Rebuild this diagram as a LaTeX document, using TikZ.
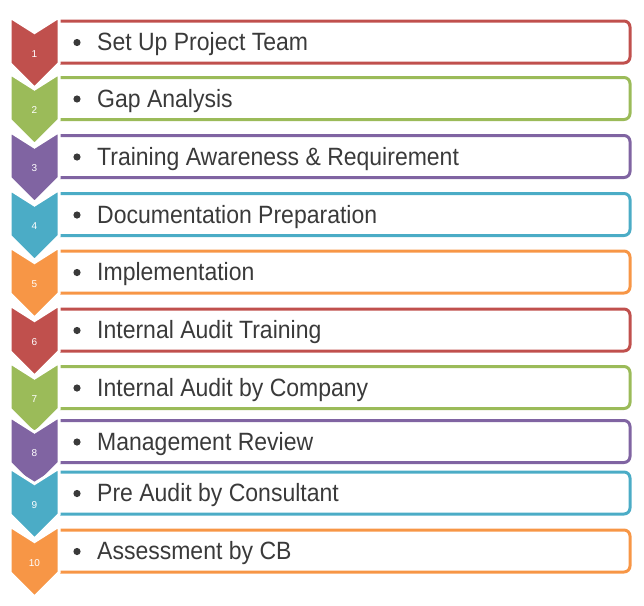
\documentclass[tikz,border=0pt]{standalone}
\usepackage{fontspec}
\newfontfamily\labelfont[FakeStretch=0.92]{Liberation Sans}
\newfontfamily\numfont{Liberation Sans}
\definecolor{cred}{HTML}{C0504D}
\definecolor{cgreen}{HTML}{9BBB59}
\definecolor{cpurple}{HTML}{8064A2}
\definecolor{cteal}{HTML}{4BACC6}
\definecolor{corange}{HTML}{F79646}
\definecolor{tgray}{HTML}{3A3A3A}
\begin{document}
\begin{tikzpicture}[x=1pt,y=-1pt,
  chev/.style={draw=white,line width=3pt,line join=miter},
  frame/.style={line width=3pt,rounded corners=6pt},
  steptext/.style={anchor=base west,inner sep=0pt,font=\labelfont\fontsize{25}{25}\selectfont,text=tgray},
  stepnum/.style={inner sep=0pt,font=\numfont\fontsize{10}{10}\selectfont,text=white},
  bul/.style={fill=tgray,draw=none}]
\useasboundingbox (0,0) rectangle (644,605);
\foreach \i/\c/\col/\txt in {
  1/42/cred/Set Up Project Team,
  2/98.5/cgreen/Gap Analysis,
  3/156.5/cpurple/Training Awareness \& Requirement,
  4/214.5/cteal/Documentation Preparation,
  5/272/corange/Implementation,
  6/330/cred/Internal Audit Training,
  7/387.5/cgreen/Internal Audit by Company,
  8/441.5/cpurple/Management Review,
  9/493/cteal/Pre Audit by Consultant,
  10/551/corange/Assessment by CB}{
  \draw[frame,draw=\col] (58,\c-21) -- (630,\c-21) -- (630,\c+21) -- (58,\c+21);
  \draw[chev,fill=\col] (10,\c-25) -- (34.5,\c-9.5) -- (59,\c-25) -- (59,\c+21.5) -- (34.5,\c+46) -- (10,\c+21.5) -- cycle;
  \node[stepnum] (n\i) at (34.5,\c+12) {\i};
  \fill[bul] (77,\c+0.5) circle (3.6pt);
  \node[steptext] (t\i) at (97,\c+8.5) {\txt};
}
\end{tikzpicture}
\end{document}
